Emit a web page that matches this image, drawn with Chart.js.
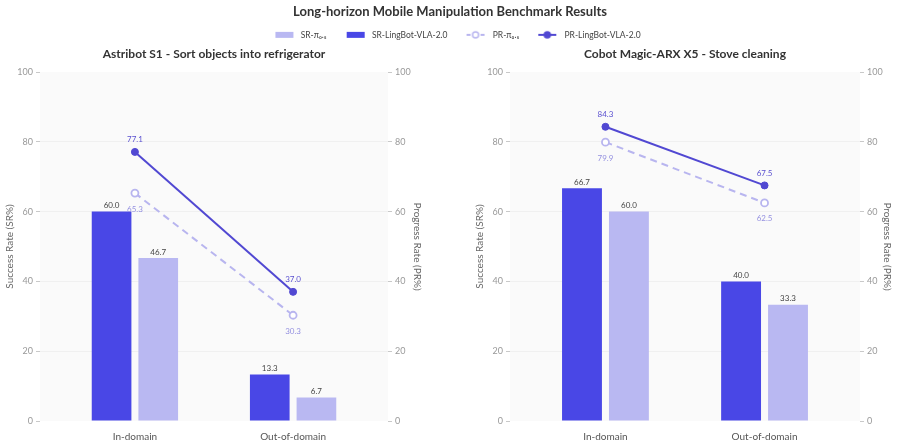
<!DOCTYPE html>
<html>
<head>
<meta charset="utf-8">
<script src="https://cdn.jsdelivr.net/npm/chart.js@4.4.1/dist/chart.umd.min.js"></script>
<style>
  html, body { margin: 0; padding: 0; background: #fff; }
  #wrap { position: relative; width: 900px; height: 440px; overflow: hidden; }
  .box { position: absolute; }
</style>
</head>
<body>
<div id="wrap">
  <div class="box" style="left:0;top:0;width:900px;height:46px"><canvas id="head"></canvas></div>
  <div class="box" style="left:0;top:44px;width:428px;height:396px"><canvas id="left"></canvas></div>
  <div class="box" style="left:470px;top:44px;width:430px;height:396px"><canvas id="right"></canvas></div>
</div>
<script>
// data
var categories = ['In-domain', 'Out-of-domain'];
var seriesNames = ['SR-π₀.₅', 'SR-LingBot-VLA-2.0', 'PR-π₀.₅', 'PR-LingBot-VLA-2.0'];
var yTicks = [0, 20, 40, 60, 80, 100];

var astribotSrPi = [46.7, 6.7];
var astribotSrLing = [60.0, 13.3];
var astribotPrPi = [65.3, 30.3];
var astribotPrLing = [77.1, 37.0];

var cobotSrPi = [60.0, 33.3];
var cobotSrLing = [66.7, 40.0];
var cobotPrPi = [79.9, 62.5];
var cobotPrLing = [84.3, 67.5];

var darkBar = '#4947e6';
var lightBar = '#b9b8f2';
var darkLine = '#5148d2';
var lightLine = '#b8b5ef';
var FONT = 'Lato';

Chart.defaults.font.family = FONT;

function pts(vals) {
  return vals.map(function(v, i) { return { x: i, y: v }; });
}

var plotBg = {
  id: 'plotBg',
  beforeDraw: function(chart) {
    var a = chart.chartArea, ctx = chart.ctx;
    ctx.save();
    ctx.fillStyle = '#fafafa';
    ctx.fillRect(a.left, a.top, a.right - a.left, a.bottom - a.top);
    ctx.restore();
  }
};

var valueLabels = {
  id: 'valueLabels',
  afterDatasetsDraw: function(chart) {
    var ctx = chart.ctx;
    ctx.save();
    ctx.textAlign = 'center';
    ctx.textBaseline = 'middle';
    ctx.font = '8px ' + FONT;
    chart.data.datasets.forEach(function(ds, i) {
      var meta = chart.getDatasetMeta(i);
      meta.data.forEach(function(el, j) {
        ctx.fillStyle = ds.labelColor;
        ctx.fillText(ds.data[j].y.toFixed(1), el.x, el.y + ds.labelOffset);
      });
    });
    ctx.restore();
  }
};

function yAxis(pos, text, titlePad) {
  return {
    position: pos,
    min: 0,
    max: 100,
    afterBuildTicks: function(s) { s.ticks = yTicks.map(function(v) { return { value: v }; }); },
    ticks: { color: '#999', font: { size: 9 }, padding: 3 },
    grid: {
      drawOnChartArea: pos === 'left',
      color: function(c) { return (c.tick && (c.tick.value === 0 || c.tick.value === 100)) ? 'rgba(0,0,0,0)' : '#ededed'; },
      tickColor: '#bbb',
      tickLength: 4,
      lineWidth: 0.8
    },
    border: { display: false },
    title: { display: true, text: text, color: '#666', font: { size: 10 }, padding: { top: titlePad, bottom: 0 } },
    afterFit: function(s) { s.width = 40; }
  };
}

function makePanel(id, title, srLing, srPi, prLing, prPi, rightPad) {
  return new Chart(document.getElementById(id), {
    type: 'bar',
    data: {
      datasets: [
        { type: 'line', label: seriesNames[3], data: pts(prLing), yAxisID: 'y2', order: 0,
          borderColor: darkLine, backgroundColor: darkLine, borderWidth: 2,
          pointRadius: 3.5, pointBackgroundColor: darkLine, pointBorderColor: darkLine, pointBorderWidth: 1,
          labelColor: '#5a50d0', labelOffset: -12 },
        { type: 'line', label: seriesNames[2], data: pts(prPi), yAxisID: 'y2', order: 1,
          borderColor: lightLine, backgroundColor: '#fff', borderWidth: 2, borderDash: [7, 5],
          pointRadius: 3.5, pointBackgroundColor: '#fff', pointBorderColor: lightLine, pointBorderWidth: 1.8,
          labelColor: '#9591e0', labelOffset: 16 },
        { label: seriesNames[1], data: pts(srLing), yAxisID: 'y', order: 2,
          backgroundColor: darkBar, categoryPercentage: 0.59, barPercentage: 0.85,
          labelColor: '#444', labelOffset: -6 },
        { label: seriesNames[0], data: pts(srPi), yAxisID: 'y', order: 3,
          backgroundColor: lightBar, categoryPercentage: 0.59, barPercentage: 0.85,
          labelColor: '#444', labelOffset: -6 }
      ]
    },
    options: {
      responsive: true,
      maintainAspectRatio: false,
      animation: false,
      layout: { padding: 0 },
      plugins: {
        legend: { display: false },
        tooltip: { enabled: false },
        title: { display: true, text: title, color: '#333', font: { size: 12, weight: 'bold' }, padding: { top: 3, bottom: 10.6 } }
      },
      scales: {
        x: {
          type: 'linear',
          min: -0.6,
          max: 1.6,
          offset: false,
          afterBuildTicks: function(s) { s.ticks = categories.map(function(c, i) { return { value: i }; }); },
          ticks: { color: '#555', font: { size: 10 }, padding: 2, callback: function(v) { return categories[v]; } },
          grid: { display: false },
          border: { display: false },
          afterFit: function(s) { s.height = 19; }
        },
        y: yAxis('left', 'Success Rate (SR%)', 4),
        y2: yAxis('right', 'Progress Rate (PR%)', rightPad)
      }
    },
    plugins: [plotBg, valueLabels]
  });
}

makePanel('left', 'Astribot S1 - Sort objects into refrigerator',
  astribotSrLing, astribotSrPi, astribotPrLing, astribotPrPi, 5);
makePanel('right', 'Cobot Magic-ARX X5 - Stove cleaning',
  cobotSrLing, cobotSrPi, cobotPrLing, cobotPrPi, 7);

// legend markers
function marker(kind, color) {
  var c = document.createElement('canvas');
  c.width = 37; c.height = 10;
  var g = c.getContext('2d');
  if (kind === 'bar') {
    g.fillStyle = color;
    g.fillRect(16, 2, 18, 6);
  } else {
    g.strokeStyle = color;
    g.lineWidth = 2;
    if (kind === 'dash') g.setLineDash([4, 3]);
    g.beginPath(); g.moveTo(15, 5); g.lineTo(33, 5); g.stroke();
    g.setLineDash([]);
    g.beginPath(); g.arc(24, 5, 3, 0, Math.PI * 2);
    g.fillStyle = kind === 'dash' ? '#fff' : color;
    g.fill();
    g.lineWidth = 1.5;
    g.stroke();
  }
  return c;
}

var legendMarkers = [marker('bar', lightBar), marker('bar', darkBar), marker('dash', lightLine), marker('solid', darkLine)];

new Chart(document.getElementById('head'), {
  type: 'bar',
  data: { labels: [], datasets: seriesNames.map(function(n) { return { label: n, data: [] }; }) },
  options: {
    responsive: true,
    maintainAspectRatio: false,
    animation: false,
    scales: { x: { display: false }, y: { display: false } },
    plugins: {
      tooltip: { enabled: false },
      title: { display: true, text: 'Long-horizon Mobile Manipulation Benchmark Results', color: '#333',
               font: { size: 13, weight: 'bold' }, padding: { top: 4, bottom: 7 } },
      legend: {
        display: true,
        position: 'top',
        labels: {
          usePointStyle: true,
          pointStyleWidth: 37,
          padding: 4,
          color: '#444',
          font: { size: 8.5 },
          generateLabels: function(chart) {
            return seriesNames.map(function(n, i) {
              return { text: n, pointStyle: legendMarkers[i], fillStyle: '#fff', strokeStyle: '#fff', lineWidth: 0, hidden: false, datasetIndex: i, fontColor: '#444' };
            });
          }
        }
      }
    }
  }
});
</script>
</body>
</html>
